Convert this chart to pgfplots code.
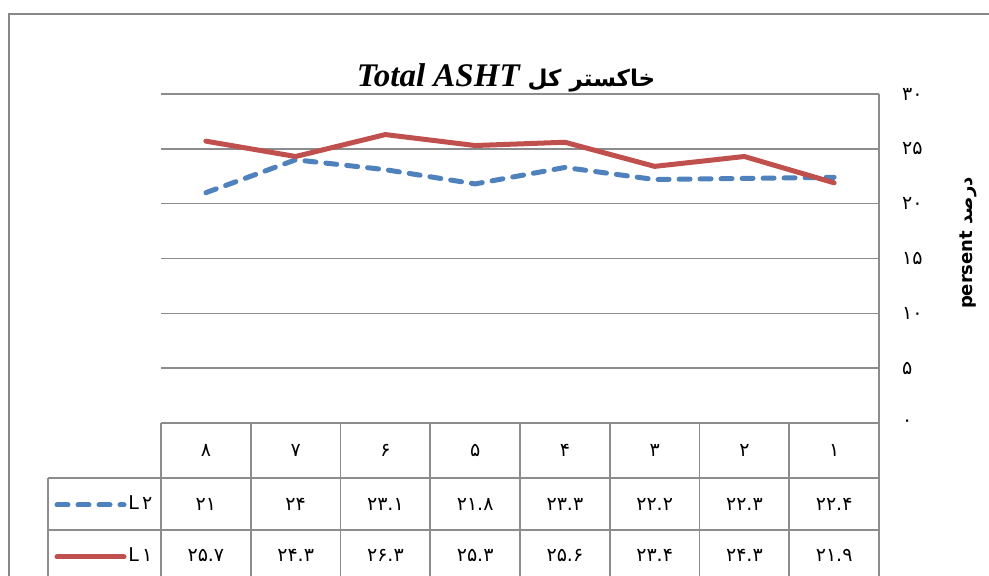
\documentclass[border=0pt]{standalone}
\usepackage{fontspec}
\usepackage{pgfplots}
\pgfplotsset{compat=1.18}
\usepackage{pgfplotstable}
\setmainfont{Liberation Serif}
\newfontfamily\fa[Script=Arabic]{DejaVu Sans}
\newfontfamily\dv{DejaVu Sans}
\TeXXeTstate=1

\definecolor{lblue}{HTML}{4F81BD}
\definecolor{lred}{HTML}{C0504D}
\definecolor{gridg}{HTML}{8C8C8C}
\definecolor{frameg}{HTML}{878787}

% total ash per sample, L1 and L2
\pgfplotstableread{
cat L1   L2
8   25.7 21.0
7   24.3 24.0
6   26.3 23.1
5   25.3 21.8
4   25.6 23.3
3   23.4 22.2
2   24.3 22.3
1   21.9 22.4
}\ashdata

\begin{document}
\begin{tikzpicture}
\useasboundingbox (0,0) rectangle (494.5pt,288pt);
\begin{axis}[
  at={(80.5pt,76.5pt)}, anchor=south west,
  scale only axis, width=359pt, height=164.5pt,
  x dir=reverse, xmin=0.5, xmax=8.5, ymin=0, ymax=30,
  xtick=\empty, ytick={0,5,...,30},
  yticklabels={۰,۵,۱۰,۱۵,۲۰,۲۵,۳۰},
  yticklabel style={font=\fa\fontsize{9.5}{10}\selectfont, anchor=west, xshift=8pt},
  ytick pos=right, major tick length=0pt,
  ymajorgrids, grid style={gridg, line width=0.8pt},
  axis line style={draw=none},
  clip=false,
]
\addplot[lblue, line width=2.5pt, dash pattern=on 5.5pt off 5pt, line cap=round]
  table[x=cat, y=L2]{\ashdata};
\addplot[lred, line width=2.5pt, line cap=round, line join=round]
  table[x=cat, y=L1]{\ashdata};
\end{axis}

\begin{scope}[x=0.5pt, y=-0.5pt, shift={(0pt,288pt)}]
  % outer frame
  \draw[frameg, line width=1pt] (9,576) -- (9,14) -- (989,14);
  % right edge of plot area and data table
  \draw[gridg, line width=0.8pt] (879,94) -- (879,576);
  \draw[gridg, line width=0.8pt] (161,423) -- (879,423);
  \draw[gridg, line width=0.8pt] (48,478) -- (879,478);
  \draw[gridg, line width=0.8pt] (48,530) -- (879,530);
  \draw[gridg, line width=0.8pt] (48,478) -- (48,576);
  \foreach \i in {0,...,7}
    \draw[gridg, line width=0.8pt] ({161+89.75*\i},423) -- ({161+89.75*\i},576);
  % category row
  \foreach \t [count=\i] in {۸,۷,۶,۵,۴,۳,۲,۱}
    \node[font=\fa\fontsize{9.5}{10}\selectfont] at ({161+89.75*(\i-0.5)},450) {\t};
  % L2 row
  \foreach \t [count=\i] in {۲۱,۲۴,۲۳.۱,۲۱.۸,۲۳.۳,۲۲.۲,۲۲.۳,۲۲.۴}
    \node[font=\fa\fontsize{9.5}{10}\selectfont] at ({161+89.75*(\i-0.5)},504) {\t};
  % L1 row
  \foreach \t [count=\i] in {۲۵.۷,۲۴.۳,۲۶.۳,۲۵.۳,۲۵.۶,۲۳.۴,۲۴.۳,۲۱.۹}
    \node[font=\fa\fontsize{9.5}{10}\selectfont] at ({161+89.75*(\i-0.5)},555) {\t};
  % legend keys
  \draw[lblue, line width=2.5pt, dash pattern=on 5.5pt off 5pt, line cap=round] (57,505) -- (124,505);
  \draw[lred, line width=2.5pt, line cap=round] (57,557) -- (124,557);
  \node[anchor=west, inner sep=0pt, font=\fontsize{9.5}{10}\selectfont] at (128,503) {{\dv L}\,{\fa ۲}};
  \node[anchor=west, inner sep=0pt, font=\fontsize{9.5}{10}\selectfont] at (128,555) {{\dv L}\,{\fa ۱}};
  % title
  \node[inner sep=0pt, anchor=base] at (506,87)
    {{\fontsize{16.5}{18}\selectfont\bfseries\itshape Total ASHT}\hspace{4pt}{\fa\bfseries\fontsize{11.5}{14}\selectfont\beginR خاکستر کل\endR}};
  % y axis label
  \node[rotate=90, font=\dv\bfseries\fontsize{9}{10}\selectfont] at (968,243)
    {persent {\fa\bfseries\beginR درصد\endR}};
\end{scope}
\end{tikzpicture}
\end{document}
